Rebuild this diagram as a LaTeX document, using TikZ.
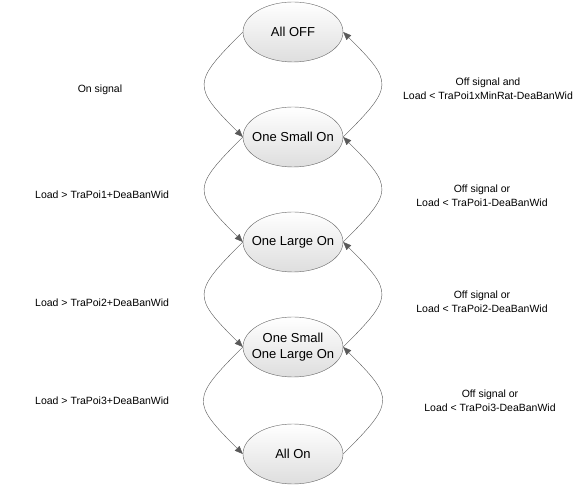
\documentclass[tikz,border=0pt]{standalone}
\usepackage{fontspec}
\setmainfont{Liberation Sans}
\usetikzlibrary{arrows.meta,shapes.geometric}
\tikzset{>={Triangle[length=8pt,width=6.5pt]},every node/.style={font=\fontsize{10.5}{14}\selectfont},state/.style={ellipse,draw=black!60,top color=white,bottom color=black!13,minimum width=100pt,minimum height=60pt,inner xsep=-10pt,inner ysep=0pt,align=center,font=\fontsize{13}{16}\selectfont},trans/.style={draw=black!65,->,looseness=1.75},cond/.style={align=center}}

\begin{document}
\begin{tikzpicture}[x=1pt,y=1pt]
\useasboundingbox (0,0) rectangle (588,489);
\foreach \n/\y/\t in {off/457/All OFF,sml/352/One Small On,lrg/247/One Large On,both/142/{One Small\\One Large On},on/35/All On}{\node[state] (\n) at (293,\y){\t};}
\foreach \a/\b in {off/sml,sml/lrg,lrg/both,both/on}{\draw[trans] (\a.west) to[out=225,in=135] (\b.west);\draw[trans] (\b.east) to[out=45,in=-45] (\a.east);}
% conditions, left side
\node[cond] (up1) at (100,399){On signal};
\foreach \i/\y in {1/294,2/186,3/88}{\node[right,inner sep=0pt] (up\the\numexpr\i+1\relax) at (35,\y){Load > TraPoi\i+DeaBanWid};}
% conditions, right side
\node[cond] (dn1) at (488,400){Off signal and\\Load < TraPoi1xMinRat-DeaBanWid};
\foreach \i/\x/\y in {1/482/293,2/482/187,3/490/88}{\node[cond] (dn\the\numexpr\i+1\relax) at (\x,\y){Off signal or\\Load < TraPoi\i-DeaBanWid};}
\end{tikzpicture}
\end{document}
